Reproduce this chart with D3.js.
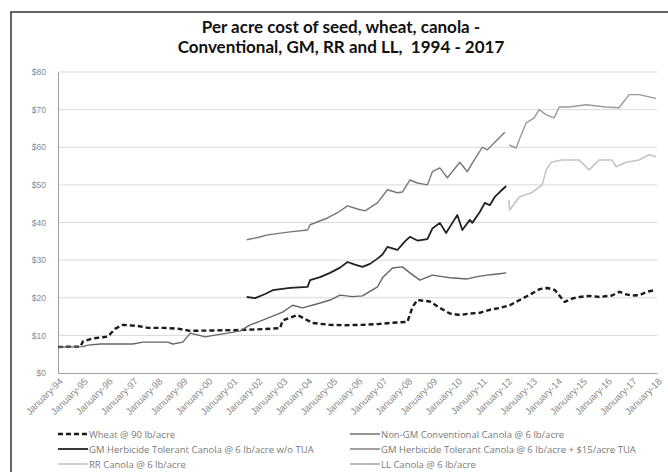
<!DOCTYPE html>
<html lang="en">
<head>
    <meta charset="UTF-8">
    <title>Per acre cost of seed</title>
    <style>
        body { margin: 0; background: #fff; }
        svg { display: block; font-family: "Open Sans", sans-serif; }
    </style>
    <script src="https://d3js.org/d3.v7.min.js"></script>
</head>
<body>
    <div id="svg"></div>
    <script>
        // x values are decimal years, y values are dollars per acre
        const wheat = [
            [1994.0, 6.9], [1994.5, 7.0], [1994.9, 7.0], [1995.0, 8.4], [1995.4, 9.2], [1995.8, 9.5], [1996.0, 9.7],
            [1996.3, 11.8], [1996.6, 12.8], [1997.2, 12.5], [1997.6, 12.0], [1998.2, 12.0], [1998.8, 11.8],
            [1999.3, 11.2], [2000.2, 11.3], [2001.0, 11.4], [2002.0, 11.6], [2002.9, 11.9], [2003.0, 14.0],
            [2003.6, 15.4], [2004.2, 13.3], [2004.9, 12.8], [2005.5, 12.7], [2006.2, 12.8], [2006.8, 13.0],
            [2007.3, 13.3], [2008.0, 13.6], [2008.2, 17.5], [2008.4, 19.4], [2008.9, 19.0], [2009.3, 17.3],
            [2009.7, 15.8], [2010.1, 15.4], [2010.5, 15.8], [2010.9, 16.0], [2011.3, 16.8], [2011.7, 17.3],
            [2012.1, 18.0], [2012.5, 19.4], [2012.9, 20.8], [2013.3, 22.3], [2013.6, 22.6], [2013.9, 22.1],
            [2014.1, 20.5], [2014.3, 18.9], [2014.6, 19.8], [2014.9, 20.2], [2015.3, 20.5], [2015.7, 20.2],
            [2016.2, 20.6], [2016.5, 21.6], [2016.7, 21.0], [2017.0, 20.6], [2017.3, 20.7], [2017.6, 21.6],
            [2017.9, 22.0]
        ];
        const nonGM = [
            [1994.0, 6.9], [1995.0, 7.0], [1995.2, 7.4], [1995.7, 7.7], [1997.0, 7.7], [1997.4, 8.2],
            [1998.4, 8.2], [1998.6, 7.7], [1999.0, 8.2], [1999.3, 10.6], [1999.9, 9.6], [2000.4, 10.2],
            [2000.8, 10.6], [2001.3, 11.2], [2001.7, 12.8], [2002.1, 13.8], [2002.4, 14.6], [2003.0, 16.2],
            [2003.4, 18.0], [2003.8, 17.3], [2004.4, 18.4], [2004.9, 19.4], [2005.3, 20.7], [2005.8, 20.3],
            [2006.2, 20.5], [2006.8, 22.9], [2007.0, 25.3], [2007.4, 27.9], [2007.8, 28.2], [2008.1, 26.6],
            [2008.5, 24.7], [2009.0, 26.0], [2009.4, 25.6], [2009.7, 25.3], [2010.4, 25.0], [2010.8, 25.6],
            [2011.2, 26.0], [2011.6, 26.3], [2011.96, 26.6]
        ];
        const gmNoTua = [
            [2001.56, 20.2], [2001.9, 19.9], [2002.3, 21.0], [2002.6, 22.0], [2003.3, 22.6], [2004.0, 22.9],
            [2004.1, 24.7], [2004.5, 25.5], [2004.9, 26.6], [2005.3, 28.0], [2005.6, 29.5], [2005.9, 28.8],
            [2006.2, 28.2], [2006.5, 29.0], [2006.8, 30.4], [2007.0, 31.5], [2007.2, 33.5], [2007.6, 32.7],
            [2007.9, 35.0], [2008.1, 36.2], [2008.4, 35.2], [2008.8, 35.6], [2009.0, 38.4], [2009.3, 39.9],
            [2009.55, 37.2], [2009.8, 39.9], [2010.0, 42.0], [2010.2, 38.0], [2010.5, 40.7], [2010.6, 39.9],
            [2010.9, 42.8], [2011.1, 45.2], [2011.3, 44.6], [2011.5, 46.8], [2011.7, 48.1], [2011.96, 49.7]
        ];
        const gmTua = [
            [2001.56, 35.4], [2002.0, 36.0], [2002.4, 36.7], [2003.3, 37.5], [2004.0, 38.0], [2004.1, 39.4],
            [2004.8, 41.2], [2005.2, 42.6], [2005.6, 44.4], [2006.0, 43.6], [2006.3, 43.1], [2006.8, 45.2],
            [2007.2, 48.7], [2007.6, 47.9], [2007.8, 48.1], [2008.1, 51.3], [2008.4, 50.5], [2008.8, 50.0],
            [2009.0, 53.5], [2009.3, 54.5], [2009.6, 51.9], [2010.1, 56.0], [2010.4, 53.5], [2010.6, 55.8],
            [2011.0, 60.0], [2011.2, 59.3], [2011.6, 62.0], [2011.9, 64.0]
        ];
        const rr = [
            [2012.06, 46.0], [2012.1, 43.3], [2012.48, 46.8], [2013.0, 48.0], [2013.4, 50.0], [2013.56, 54.0],
            [2013.76, 56.0], [2014.2, 56.6], [2014.88, 56.6], [2015.28, 54.0], [2015.68, 56.6], [2016.2, 56.6],
            [2016.36, 54.8], [2016.76, 56.0], [2017.28, 56.6], [2017.68, 58.0], [2017.96, 57.5]
        ];
        const ll = [
            [2012.08, 60.6], [2012.36, 59.8], [2012.48, 62.0], [2012.76, 66.5], [2013.08, 67.8], [2013.28, 70.0],
            [2013.56, 68.6], [2013.88, 67.8], [2014.08, 70.7], [2014.48, 70.7], [2015.16, 71.3], [2015.96, 70.7],
            [2016.48, 70.5], [2016.88, 74.0], [2017.28, 74.0], [2017.96, 73.0]
        ];
        const seriesNames = [
            "Wheat @ 90 lb/acre",
            "Non-GM Conventional Canola @ 6 lb/acre",
            "GM Herbicide Tolerant Canola @ 6 lb/acre w/o TUA",
            "GM Herbicide Tolerant Canola @ 6 lb/acre + $15/acre TUA",
            "RR Canola @ 6 lb/acre",
            "LL Canola @ 6 lb/acre"
        ];
        const tickYears = d3.range(1994, 2019);
        const tickLabels = tickYears.map(y => "January-" + String(y).slice(2));
        const yTicks = [0, 10, 20, 30, 40, 50, 60, 70, 80];

        const series = [
            { name: seriesNames[0], data: wheat, color: "#1a1a1a", width: 2.4, dash: "5,3" },
            { name: seriesNames[1], data: nonGM, color: "#666666", width: 1.4, dash: null },
            { name: seriesNames[2], data: gmNoTua, color: "#222222", width: 1.8, dash: null },
            { name: seriesNames[3], data: gmTua, color: "#777777", width: 1.4, dash: null },
            { name: seriesNames[4], data: rr, color: "#c4c4c4", width: 1.6, dash: null },
            { name: seriesNames[5], data: ll, color: "#9a9a9a", width: 1.4, dash: null }
        ];

        const boxWidth = 668, boxHeight = 472;
        const svg = d3.select("#svg").append("svg")
            .attr("width", boxWidth).attr("height", boxHeight);

        // chart frame (runs off the right and bottom of the picture)
        svg.append("rect")
            .attr("x", 11).attr("y", 12)
            .attr("width", 700).attr("height", 500)
            .attr("fill", "#fff").attr("stroke", "#333").attr("stroke-width", 1.5);

        svg.append("text").attr("x", 341).attr("y", 33)
            .attr("text-anchor", "middle").attr("font-weight", "bold").attr("font-size", 17)
            .attr("font-family", "Lato").attr("fill", "#111")
            .text("Per acre cost of seed, wheat, canola -");
        svg.append("text").attr("x", 341).attr("y", 53)
            .attr("text-anchor", "middle").attr("font-weight", "bold").attr("font-size", 17)
            .attr("font-family", "Lato").attr("fill", "#111")
            .style("white-space", "pre")
            .text("Conventional, GM, RR and LL,  1994 - 2017");

        const xScale = d3.scaleLinear().domain([1994, 2018]).range([58, 657]);
        const yScale = d3.scaleLinear().domain([0, 80]).range([373, 72]);

        // gridlines
        svg.append("g").selectAll("line").data(yTicks.slice(1)).join("line")
            .attr("x1", xScale(1994)).attr("x2", xScale(2018))
            .attr("y1", d => yScale(d)).attr("y2", d => yScale(d))
            .attr("stroke", "#d9d9d9").attr("stroke-width", 1);

        const yAxis = d3.axisLeft(yScale).tickValues(yTicks).tickSize(0).tickPadding(12)
            .tickFormat(d => "$" + d);
        const gy = svg.append("g").attr("transform", `translate(${xScale(1994)},0)`).call(yAxis);
        gy.select(".domain").attr("stroke", "#a0a0a0");
        gy.selectAll("text").attr("font-size", 8.5).attr("fill", "#8a8a8a");

        const xAxis = d3.axisBottom(xScale).tickValues(tickYears).tickSize(0)
            .tickFormat((d, i) => tickLabels[i]);
        const gx = svg.append("g").attr("transform", `translate(0,${yScale(0)})`).call(xAxis);
        gx.select(".domain").attr("stroke", "#a0a0a0");
        gx.selectAll("text")
            .attr("font-size", 9.5).attr("fill", "#8a8a8a")
            .attr("text-anchor", "end")
            .attr("dy", null).attr("y", 0)
            .attr("transform", "translate(5,9) rotate(-45)");

        const line = d3.line().x(d => xScale(d[0])).y(d => yScale(d[1]));
        svg.append("g").selectAll("path").data(series).join("path")
            .attr("d", d => line(d.data))
            .attr("fill", "none")
            .attr("stroke", d => d.color)
            .attr("stroke-width", d => d.width)
            .attr("stroke-dasharray", d => d.dash)
            .attr("stroke-linejoin", "round");

        // legend: two columns, three rows
        const legendCols = [58, 350], legendRows = [434, 449, 464];
        const lg = svg.append("g").selectAll("g").data(series).join("g")
            .attr("transform", (d, i) => `translate(${legendCols[i % 2]},${legendRows[Math.floor(i / 2)]})`);
        lg.append("line").attr("x1", 0).attr("x2", 30).attr("y1", 0).attr("y2", 0)
            .attr("stroke", d => d.color).attr("stroke-width", d => d.width)
            .attr("stroke-dasharray", d => d.dash);
        lg.append("text").attr("x", 31).attr("y", 3.5)
            .attr("font-size", 9.5).attr("fill", "#7a7a7a")
            .text(d => d.name);
    </script>
</body>
</html>
